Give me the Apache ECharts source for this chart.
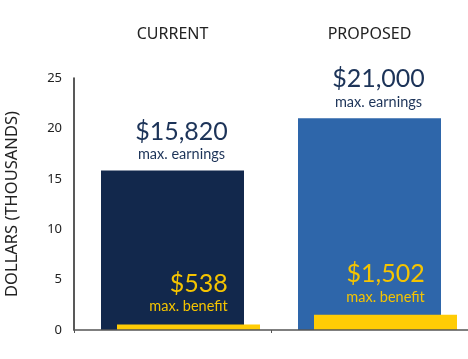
<!DOCTYPE html>
<html>
<head>
<meta charset="utf-8">
<script src="https://cdn.jsdelivr.net/npm/echarts@6/dist/echarts.min.js"></script>
<style>html,body{margin:0;padding:0;background:#fff;}#c{width:468px;height:359px;}</style>
</head>
<body>
<div id="c"></div>
<script>
const categories = ['CURRENT', 'PROPOSED'];
const maxEarnings = [15.82, 21.0];
const maxBenefit = [0.538, 1.502];
const earningsLabels = ['$15,820', '$21,000'];
const benefitLabels = ['$538', '$1,502'];
const yTicks = [0, 5, 10, 15, 20, 25];
const barColors = ['#12284c', '#2e66aa'];

const chart = echarts.init(document.getElementById('c'));
const FONT = 'Lato, "Noto Sans", sans-serif';
const FONT2 = '"Noto Sans", sans-serif';
chart.setOption({
  animation: false,
  grid: [
    {left: 74, right: 0, top: 78, bottom: 29, outerBoundsMode: 'none', containLabel: false},
    {left: 90, width: 394, top: 78, bottom: 29, outerBoundsMode: 'none', containLabel: false}
  ],
  xAxis: [
    {type: 'category', data: categories, gridIndex: 0, position: 'bottom',
     axisLine: {lineStyle: {color: '#555', width: 1.5}},
     axisTick: {show: true, length: 3, lineStyle: {color: '#555'}},
     axisLabel: {show: false}, z: 10},
    {type: 'category', data: categories, gridIndex: 1, show: false},
    {type: 'category', data: categories, gridIndex: 0, position: 'top',
     axisLine: {show: false}, axisTick: {show: false},
     axisLabel: {margin: 36, color: '#222', fontSize: 16, fontFamily: FONT2}}
  ],
  yAxis: [
    {type: 'value', gridIndex: 0, min: 0, max: 25, interval: 5,
     name: 'DOLLARS (THOUSANDS)', nameLocation: 'middle', nameGap: 53,
     nameTextStyle: {color: '#222', fontSize: 16.5, fontFamily: FONT2},
     axisLine: {show: true, lineStyle: {color: '#222', width: 1.5}},
     axisTick: {show: false}, splitLine: {show: false},
     axisLabel: {color: '#222', fontSize: 13, margin: 12, fontFamily: FONT2,
       formatter: v => yTicks.includes(v) ? String(v) : ''}},
    {type: 'value', gridIndex: 1, min: 0, max: 25, interval: 5, show: false}
  ],
  series: [
    {type: 'bar', xAxisIndex: 0, yAxisIndex: 0, barWidth: 143,
     data: maxEarnings.map((v, i) => ({value: v, itemStyle: {color: barColors[i]}})),
     label: {show: true, position: 'top', distance: 6, offset: [9, 0],
       formatter: p => '{a|' + earningsLabels[p.dataIndex] + '}\n{b|max. earnings}',
       rich: {
         a: {fontSize: 25, color: '#1c3358', fontFamily: FONT, lineHeight: 26, align: 'center'},
         b: {fontSize: 14.5, color: '#1c3358', fontFamily: FONT, lineHeight: 20, align: 'center'}
       }}},
    {type: 'bar', xAxisIndex: 1, yAxisIndex: 1, barWidth: 143, z: 3,
     itemStyle: {color: '#ffcc05'},
     data: maxBenefit,
     label: {show: true, position: 'top', distance: 8, offset: [0, 0],
       formatter: p => '{a|' + benefitLabels[p.dataIndex] + '}\n{b|max. benefit}',
       rich: {
         a: {fontSize: 25, color: '#f5c400', fontFamily: FONT, lineHeight: 26, align: 'right'},
         b: {fontSize: 14.5, color: '#f5c400', fontFamily: FONT, lineHeight: 20, align: 'right'}
       }}}
  ]
});
</script>
</body>
</html>
